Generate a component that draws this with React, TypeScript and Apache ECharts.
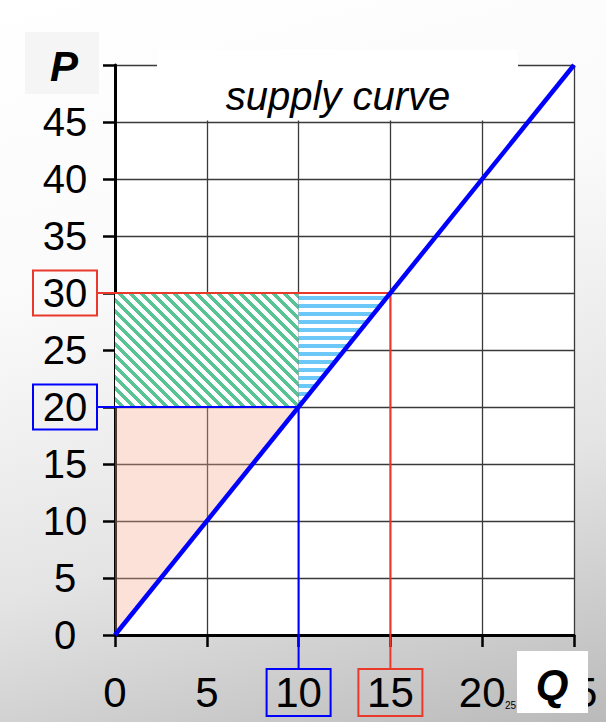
import React, { useEffect, useRef } from "react";
import * as echarts from "echarts";

// ---- data ----
const supplyQ = [0, 25];
const supplyP = [0, 50];
const priceLevels = [20, 30]; // old price, new price
const quantityLevels = [10, 15]; // old quantity, new quantity
const xTicks = [0, 5, 10, 15, 20, 25];
const yTicks = [0, 5, 10, 15, 20, 25, 30, 35, 40, 45, 50];

const FONT = '"Liberation Sans", Arial, Helvetica, sans-serif';
const BLUE = "#0000ff";
const RED = "#e8392b";

function makePattern(kind: "diag" | "horiz") {
  const size = kind === "diag" ? 11 : 8;
  const c = document.createElement("canvas");
  c.width = size;
  c.height = size;
  const ctx = c.getContext("2d")!;
  const img = ctx.createImageData(size, size);
  for (let y = 0; y < size; y++) {
    for (let x = 0; x < size; x++) {
      let on = false;
      let col = [255, 255, 255];
      if (kind === "diag") {
        on = (((x - y) % size) + size) % size < 5;
        if (on) col = [88, 196, 148];
      } else {
        on = y % size < 4;
        if (on) col = [108, 200, 248];
      }
      const i = (y * size + x) * 4;
      img.data[i] = col[0];
      img.data[i + 1] = col[1];
      img.data[i + 2] = col[2];
      img.data[i + 3] = 255;
    }
  }
  ctx.putImageData(img, 0, 0);
  return { image: c, repeat: "repeat", imageWidth: size, imageHeight: size } as any;
}

export default function App() {
  const ref = useRef<HTMLDivElement>(null);
  useEffect(() => {
    if (!ref.current) return;
    const chart = echarts.init(ref.current, null, { renderer: "svg" });
    const [P1, P2] = priceLevels;
    const [Q1, Q2] = quantityLevels;
    const regions = [
      [[0, 0], [0, P1], [Q1, P1]],
      [[0, P1], [0, P2], [Q1, P2], [Q1, P1]],
      [[Q1, P1], [Q1, P2], [Q2, P2]],
    ];
    const fills: any[] = [
      "rgba(243,170,140,0.35)",
      makePattern("diag"),
      makePattern("horiz"),
    ];
    const guideColors = [BLUE, RED];

    const base = (fs: number, h: number) => ({
      fontSize: fs, fontFamily: FONT, color: "#000", width: 64, height: h, lineHeight: h, align: "center", verticalAlign: "middle",
    });
    const xRich = {
      n: base(42, 47),
      b: { ...base(42, 47), borderColor: BLUE, borderWidth: 2 },
      r: { ...base(42, 47), borderColor: RED, borderWidth: 2 },
    };
    const yRich = {
      n: base(40, 45),
      b: { ...base(40, 45), borderColor: BLUE, borderWidth: 2 },
      r: { ...base(40, 45), borderColor: RED, borderWidth: 2 },
    };

    chart.setOption({
      animation: false,
      backgroundColor: "transparent",
      grid: {
        left: 115, right: 32, top: 65, bottom: 87,
        outerBoundsMode: "none", containLabel: false,
        show: true, backgroundColor: "#ffffff", borderWidth: 0,
      },
      xAxis: {
        type: "value",
        min: xTicks[0],
        max: xTicks[xTicks.length - 1],
        interval: 5,
        axisLine: { show: true, onZero: false, lineStyle: { color: "#000", width: 3 } },
        axisTick: { show: true, length: 12, lineStyle: { color: "#000", width: 2.5 } },
        axisLabel: {
          margin: 34,
          hideOverlap: false,
          formatter: (v: number) => (v === Q1 ? `{b|${v}}` : v === Q2 ? `{r|${v}}` : `{n|${v}}`),
          rich: xRich,
        },
        splitLine: { show: true, lineStyle: { color: "#3a3a3a", width: 1.3 } },
      },
      yAxis: {
        type: "value",
        min: yTicks[0],
        max: yTicks[yTicks.length - 1],
        interval: 5,
        axisLine: { show: true, onZero: false, lineStyle: { color: "#000", width: 3 } },
        axisTick: { show: true, length: 12, lineStyle: { color: "#000", width: 2.5 } },
        axisLabel: {
          margin: 18,
          formatter: (v: number) =>
            v === yTicks[yTicks.length - 1] ? "" : v === P1 ? `{b|${v}}` : v === P2 ? `{r|${v}}` : `{n|${v}}`,
          rich: yRich,
        },
        splitLine: { show: true, lineStyle: { color: "#3a3a3a", width: 1.3 } },
      },
      series: [
        {
          type: "custom",
          z: 1,
          clip: false,
          data: regions.map((r, i) => [r[0][0], r[0][1], i]),
          renderItem: (params: any, api: any) => {
            const i = params.dataIndex;
            const pts = regions[i].map((p) => api.coord(p));
            return { type: "polygon", shape: { points: pts }, style: { fill: fills[i], stroke: null } };
          },
        },
        {
          type: "custom",
          z: 2,
          clip: false,
          data: quantityLevels.map((q, i) => [q, priceLevels[i]]),
          renderItem: (params: any, api: any) => {
            const pt = api.coord([api.value(0), api.value(1)]);
            const o = api.coord([0, 0]);
            return {
              type: "polyline",
              shape: { points: [[o[0] - 18, pt[1]], pt, [pt[0], o[1] + 34]] },
              style: { stroke: guideColors[params.dataIndex], lineWidth: 2, fill: "none" },
            };
          },
        },
        {
          type: "line",
          z: 3,
          data: supplyQ.map((q, i) => [q, supplyP[i]]),
          symbol: "none",
          lineStyle: { color: BLUE, width: 4.5 },
        },
      ],
      graphic: [
        { type: "rect", z: 100, shape: { x: 157, y: 50, width: 361, height: 70.5 }, style: { fill: "#ffffff" } },
        {
          type: "text", z: 101, x: 338, y: 96,
          style: { text: "supply curve", font: `italic 40px ${FONT}`, fill: "#000", textAlign: "center", textVerticalAlign: "middle" },
        },
        { type: "rect", z: 100, shape: { x: 25, y: 32, width: 74, height: 62 }, style: { fill: "#f5f5f5" } },
        {
          type: "text", z: 101, x: 64, y: 66,
          style: { text: "P", font: `italic bold 42px ${FONT}`, fill: "#000", textAlign: "center", textVerticalAlign: "middle" },
        },
        {
          type: "text", z: 99, x: 505, y: 705,
          style: { text: "25", font: `10px ${FONT}`, fill: "#000", textAlign: "left", textVerticalAlign: "middle" },
        },
        { type: "rect", z: 100, shape: { x: 517, y: 651, width: 71, height: 62 }, style: { fill: "#ffffff" } },
        {
          type: "text", z: 101, x: 552, y: 684,
          style: { text: "Q", font: `italic bold 42px ${FONT}`, fill: "#000", textAlign: "center", textVerticalAlign: "middle" },
        },
      ],
    });
    return () => chart.dispose();
  }, []);
  return (
    <div
      style={{
        position: "fixed",
        left: 0,
        top: 0,
        width: 606,
        height: 722,
        background: "linear-gradient(165deg, #ffffff 0%, #fafafa 35%, #e4e4e4 68%, #bababa 100%)",
      }}
    >
      <div ref={ref} style={{ width: 606, height: 722 }} />
    </div>
  );
}
